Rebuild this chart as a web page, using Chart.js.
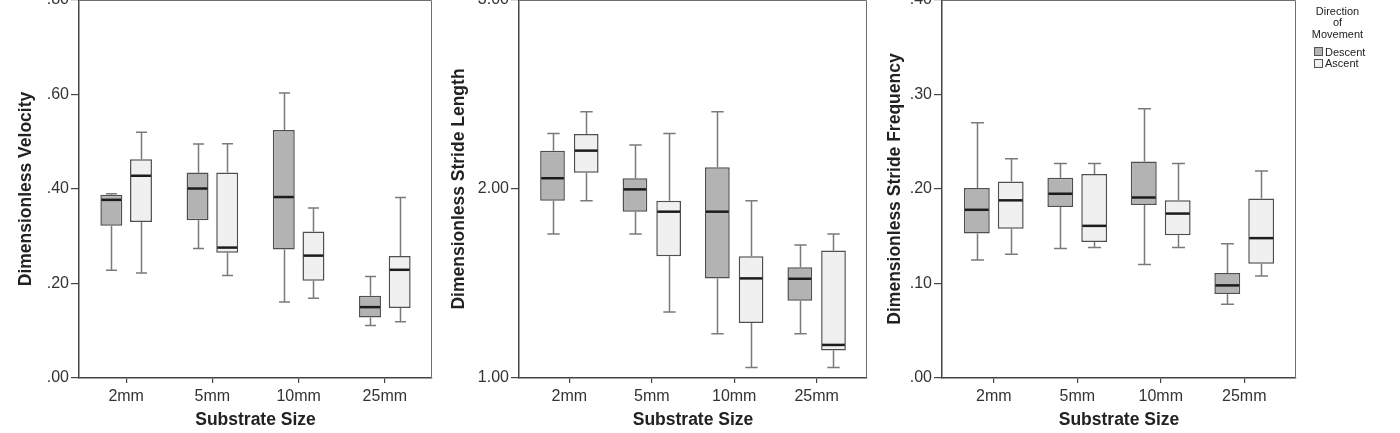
<!DOCTYPE html>
<html>
<head>
<meta charset="utf-8">
<script src="https://cdn.jsdelivr.net/npm/chart.js@4.4.1/dist/chart.umd.min.js"></script>
<style>
html, body { margin:0; padding:0; background:#fff; width:1400px; height:433px; overflow:hidden; position:relative; font-family:"Liberation Sans", Arial, sans-serif; }
canvas { position:absolute; top:-20px; }
.lg { position:absolute; font-size:11px; color:#222; white-space:nowrap; }
.lgTitle { left:1300px; top:6px; width:75px; text-align:center; line-height:11.3px; }
.sw { position:absolute; width:7px; height:7px; border:1px solid #555; }
</style>
</head>
<body>
<canvas id="c1" width="440" height="453" style="left:0px"></canvas>
<canvas id="c2" width="440" height="453" style="left:440px"></canvas>
<canvas id="c3" width="430" height="453" style="left:880px"></canvas>
<div class="lg lgTitle" id="lgTitle"></div>
<div id="lgItems"></div>
<script>
// ---------- data ----------
const categories = ['2mm', '5mm', '10mm', '25mm'];
const seriesNames = ['Descent', 'Ascent'];
const legendTitle = ['Direction', 'of', 'Movement'];
const xTitle = 'Substrate Size';

// five-number summaries per category: [min, Q1, median, Q3, max]
const velocityDescent = [
  [0.228, 0.322, 0.377, 0.388, 0.390],
  [0.274, 0.334, 0.401, 0.435, 0.495],
  [0.161, 0.272, 0.383, 0.525, 0.603],
  [0.111, 0.128, 0.150, 0.174, 0.215]
];
const velocityAscent = [
  [0.222, 0.330, 0.428, 0.463, 0.520],
  [0.217, 0.265, 0.276, 0.435, 0.496],
  [0.169, 0.206, 0.259, 0.310, 0.360],
  [0.119, 0.148, 0.229, 0.258, 0.382]
];
const strideLengthDescent = [
  [1.762, 1.938, 2.057, 2.203, 2.293],
  [1.762, 1.880, 1.998, 2.057, 2.233],
  [1.234, 1.527, 1.880, 2.115, 2.409],
  [1.234, 1.409, 1.525, 1.586, 1.704]
];
const strideLengthAscent = [
  [1.938, 2.086, 2.203, 2.291, 2.409],
  [1.349, 1.644, 1.880, 1.938, 2.293],
  [1.055, 1.291, 1.527, 1.644, 1.938],
  [1.055, 1.145, 1.175, 1.674, 1.762]
];
const strideFreqDescent = [
  [0.125, 0.153, 0.178, 0.201, 0.270],
  [0.137, 0.181, 0.195, 0.212, 0.227],
  [0.120, 0.183, 0.191, 0.229, 0.285],
  [0.078, 0.089, 0.098, 0.111, 0.142]
];
const strideFreqAscent = [
  [0.131, 0.158, 0.188, 0.208, 0.232],
  [0.138, 0.144, 0.161, 0.216, 0.227],
  [0.138, 0.151, 0.174, 0.188, 0.227],
  [0.108, 0.121, 0.148, 0.190, 0.219]
];

const velocityTicks = ['.00', '.20', '.40', '.60', '.80'];
const strideLengthTicks = ['1.00', '2.00', '3.00'];
const strideFreqTicks = ['.00', '.10', '.20', '.30', '.40'];

// ---------- styling ----------
const FONT = '"Liberation Sans", Arial, sans-serif';
const descentFill = '#b3b3b3';
const ascentFill = '#f0f0f0';
const boxBorder = '#4f4f4f';
const whiskerColor = '#7a7a7a';
const medianColor = '#1c1c1c';

const boxPlotPlugin = {
  id: 'boxPlot',
  beforeDatasetsDraw(chart) {
    const ctx = chart.ctx;
    const ys = chart.scales.y;
    const a = chart.chartArea;
    // frame (top and right edges)
    ctx.save();
    ctx.strokeStyle = '#6e6e6e';
    ctx.lineWidth = 1;
    ctx.beginPath();
    ctx.moveTo(a.left, a.top + 0.5);
    ctx.lineTo(a.right - 0.5, a.top + 0.5);
    ctx.lineTo(a.right - 0.5, a.bottom);
    ctx.stroke();
    // whiskers
    chart.data.datasets.forEach((ds, di) => {
      const meta = chart.getDatasetMeta(di);
      meta.data.forEach((el, i) => {
        const s = ds.summaries[i];
        const x = Math.round(el.x) + 0.5;
        const cap = el.width / 4;
        const yMin = ys.getPixelForValue(s[0]);
        const yQ1 = ys.getPixelForValue(s[1]);
        const yQ3 = ys.getPixelForValue(s[3]);
        const yMax = ys.getPixelForValue(s[4]);
        ctx.strokeStyle = whiskerColor;
        ctx.lineWidth = 1.5;
        ctx.beginPath();
        ctx.moveTo(x, yQ3); ctx.lineTo(x, yMax);
        ctx.moveTo(x, yQ1); ctx.lineTo(x, yMin);
        ctx.moveTo(x - cap, yMax); ctx.lineTo(x + cap, yMax);
        ctx.moveTo(x - cap, yMin); ctx.lineTo(x + cap, yMin);
        ctx.stroke();
      });
    });
    ctx.restore();
  },
  afterDatasetsDraw(chart) {
    const ctx = chart.ctx;
    const ys = chart.scales.y;
    ctx.save();
    chart.data.datasets.forEach((ds, di) => {
      const meta = chart.getDatasetMeta(di);
      meta.data.forEach((el, i) => {
        const s = ds.summaries[i];
        const half = el.width / 2 - 1;
        const yMed = ys.getPixelForValue(s[2]);
        ctx.strokeStyle = medianColor;
        ctx.lineWidth = 2.5;
        ctx.beginPath();
        ctx.moveTo(el.x - half, yMed); ctx.lineTo(el.x + half, yMed);
        ctx.stroke();
      });
    });
    ctx.restore();
  }
};

function makePanel(id, p) {
  const mk = (summ, name, fill) => ({
    label: name,
    data: summ.map((s, i) => ({ x: i, y: [s[1], s[3]] })),
    summaries: summ,
    backgroundColor: fill,
    borderColor: boxBorder,
    borderWidth: 1.5,
    borderSkipped: false,
    categoryPercentage: p.cat,
    barPercentage: p.bar
  });
  return new Chart(document.getElementById(id), {
    type: 'bar',
    data: { datasets: [mk(p.descent, seriesNames[0], descentFill), mk(p.ascent, seriesNames[1], ascentFill)] },
    options: {
      responsive: false,
      animation: false,
      devicePixelRatio: 1,
      layout: { padding: { top: 20, left: 0, right: p.padRight, bottom: 0 } },
      plugins: { legend: { display: false }, tooltip: { enabled: false } },
      scales: {
        x: {
          type: 'linear',
          offset: false,
          min: -p.xPad,
          max: categories.length - 1 + p.xPad,
          afterBuildTicks: s => { s.ticks = categories.map((c, i) => ({ value: i })); },
          afterFit: s => { s.height = 55; },
          ticks: { callback: (v, i) => categories[i], autoSkip: false, maxRotation: 0, padding: 4, color: '#333', font: { family: FONT, size: 16 } },
          grid: { offset: false, drawOnChartArea: false, drawTicks: true, tickLength: 5, color: '#444', lineWidth: 1.2 },
          border: { display: true, color: '#444', width: 1.5 },
          title: { display: true, text: xTitle, color: '#222', font: { family: FONT, size: 17.5, weight: 'bold' }, padding: { top: 0, bottom: 2 } }
        },
        y: {
          min: p.yMin,
          max: p.yMax,
          afterBuildTicks: s => { s.ticks = p.yTicks.map((t, i) => ({ value: p.yMin + i * p.yStep })); },
          afterFit: s => { s.width = p.yWidth; },
          ticks: { callback: (v, i) => p.yTicks[i], autoSkip: false, padding: 2, color: '#333', font: { family: FONT, size: 16 } },
          grid: { drawOnChartArea: false, drawTicks: true, tickLength: 8, color: '#444', lineWidth: 1.2 },
          border: { display: true, color: '#444', width: 1.5 },
          title: { display: true, text: p.yTitle, color: '#222', font: { family: FONT, size: 17.5, weight: 'bold' }, padding: { top: p.titlePad, bottom: 0 } }
        }
      }
    },
    plugins: [boxPlotPlugin]
  });
}

makePanel('c1', { descent: velocityDescent, ascent: velocityAscent, yTitle: 'Dimensionless Velocity',
  yMin: 0, yMax: 0.8, yStep: 0.2, yTicks: velocityTicks, yWidth: 79, padRight: 8, xPad: 0.547,
  cat: 0.688, bar: 0.74, titlePad: 16 });
makePanel('c2', { descent: strideLengthDescent, ascent: strideLengthAscent, yTitle: 'Dimensionless Stride Length',
  yMin: 1, yMax: 3, yStep: 1, yTicks: strideLengthTicks, yWidth: 79, padRight: 13, xPad: 0.611,
  cat: 0.818, bar: 0.733, titlePad: 9 });
makePanel('c3', { descent: strideFreqDescent, ascent: strideFreqAscent, yTitle: 'Dimensionless Stride Frequency',
  yMin: 0, yMax: 0.4, yStep: 0.1, yTicks: strideFreqTicks, yWidth: 62, padRight: 14, xPad: 0.62,
  cat: 0.812, bar: 0.763, titlePad: 5 });

// ---------- legend ----------
document.getElementById('lgTitle').innerHTML = legendTitle.join('<br>');
const fills = [descentFill, ascentFill];
const items = document.getElementById('lgItems');
seriesNames.forEach((n, i) => {
  const top = 47 + i * 11.5;
  const sw = document.createElement('div');
  sw.className = 'sw';
  sw.style.left = '1314px'; sw.style.top = top + 'px'; sw.style.background = fills[i];
  items.appendChild(sw);
  const t = document.createElement('div');
  t.className = 'lg';
  t.style.left = '1325px'; t.style.top = (top - 1.5) + 'px'; t.style.lineHeight = '12px';
  t.textContent = n;
  items.appendChild(t);
});
</script>
</body>
</html>
